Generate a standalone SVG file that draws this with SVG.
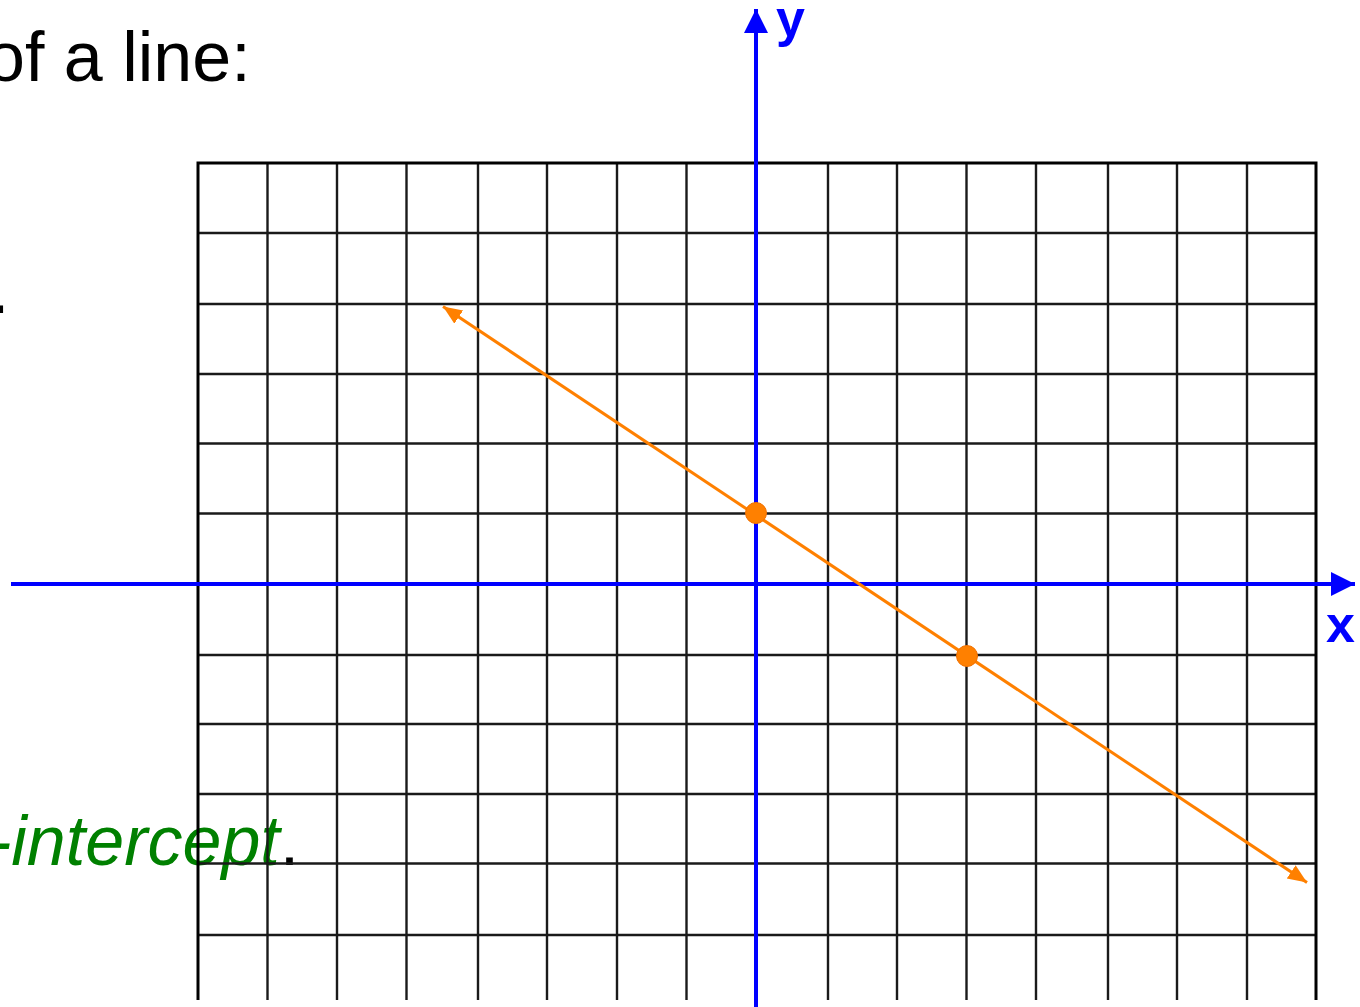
<svg xmlns="http://www.w3.org/2000/svg" width="1360" height="1007" viewBox="0 0 1360 1007">
<style>
.txt{font-family:"Liberation Sans",Arial,sans-serif;font-size:70px;fill:#000}
.grn{fill:#008000;font-style:italic}
.lbl{font-family:"Liberation Sans",Arial,sans-serif;font-size:52px;font-weight:bold;fill:#0000ff}
.grid line{stroke:#1a1a1a;stroke-width:2.4}
.border{stroke:#000;stroke-width:3;fill:none}
.axis{stroke:#0000ff;stroke-width:4;fill:none}
.oline{stroke:#ff8000;stroke-width:3;fill:none}
.pt{fill:#ff8000;stroke:#f07000;stroke-width:1}
</style>
<defs>
<marker id="ba" markerUnits="userSpaceOnUse" markerWidth="26" markerHeight="26" refX="24" refY="12" orient="auto"><path d="M0,0 L24,12 L0,24 z" fill="#0000ff"/></marker>
<marker id="oa" markerUnits="userSpaceOnUse" markerWidth="22" markerHeight="18" refX="19" refY="8" orient="auto-start-reverse"><path d="M0,0 L19,8 L0,16 z" fill="#ff8000"/></marker>
</defs>
<rect width="1360" height="1007" fill="#fff"/>
<g id="texts">
<text class="txt" x="-14" y="81">of a line:</text>
<text class="txt" x="-10" y="313">.</text>
<text class="txt" x="-12" y="865" font-size="68"><tspan class="grn">-intercept</tspan>.</text>
</g>
<g id="grid" class="grid">
<line x1="267.5" y1="163" x2="267.5" y2="1000"/>
<line x1="337" y1="163" x2="337" y2="1000"/>
<line x1="406.5" y1="163" x2="406.5" y2="1000"/>
<line x1="478" y1="163" x2="478" y2="1000"/>
<line x1="547" y1="163" x2="547" y2="1000"/>
<line x1="617" y1="163" x2="617" y2="1000"/>
<line x1="686.5" y1="163" x2="686.5" y2="1000"/>
<line x1="828" y1="163" x2="828" y2="1000"/>
<line x1="897" y1="163" x2="897" y2="1000"/>
<line x1="966.5" y1="163" x2="966.5" y2="1000"/>
<line x1="1036" y1="163" x2="1036" y2="1000"/>
<line x1="1108" y1="163" x2="1108" y2="1000"/>
<line x1="1177" y1="163" x2="1177" y2="1000"/>
<line x1="1247" y1="163" x2="1247" y2="1000"/>
<line x1="198" y1="233" x2="1316" y2="233"/>
<line x1="198" y1="304" x2="1316" y2="304"/>
<line x1="198" y1="374" x2="1316" y2="374"/>
<line x1="198" y1="443.5" x2="1316" y2="443.5"/>
<line x1="198" y1="513.5" x2="1316" y2="513.5"/>
<line x1="198" y1="584" x2="1316" y2="584"/>
<line x1="198" y1="655" x2="1316" y2="655"/>
<line x1="198" y1="724" x2="1316" y2="724"/>
<line x1="198" y1="794" x2="1316" y2="794"/>
<line x1="198" y1="863.5" x2="1316" y2="863.5"/>
<line x1="198" y1="935" x2="1316" y2="935"/>
<path class="border" d="M198,1000 V163 H1316 V1000"/>
</g>
<g id="axes">
<line class="axis" x1="11" y1="584" x2="1355" y2="584" marker-end="url(#ba)"/>
<line class="axis" x1="756" y1="1007" x2="756" y2="9" marker-end="url(#ba)"/>
<text class="lbl" x="776" y="36">y</text>
<text class="lbl" x="1326" y="642">x</text>
</g>
<g id="connectors">
<line class="oline" x1="443" y1="306.5" x2="1307" y2="882.5" marker-start="url(#oa)" marker-end="url(#oa)"/>
</g>
<g id="point-a"><circle class="pt" cx="756" cy="513" r="10.5"/></g>
<g id="point-b"><circle class="pt" cx="967" cy="656" r="10.5"/></g>
</svg>
